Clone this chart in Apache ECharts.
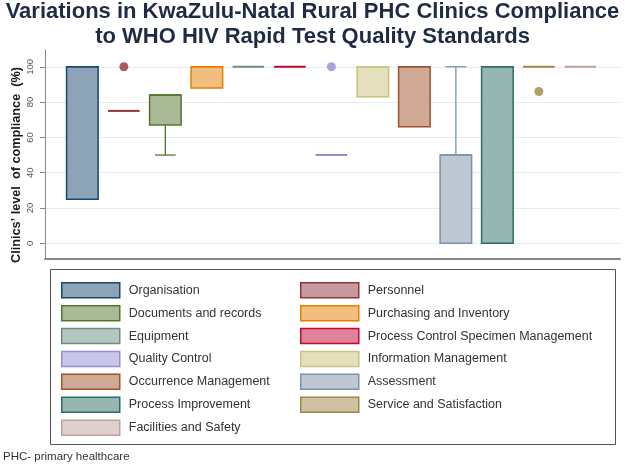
<!DOCTYPE html>
<html>
<head>
<meta charset="utf-8">
<script src="https://cdn.jsdelivr.net/npm/echarts@6/dist/echarts.min.js"></script>
<style>
html,body{margin:0;padding:0;background:#fff;}
#chart{width:625px;height:467px;}
</style>
</head>
<body>
<div id="chart"></div>
<script>
// ---- data ----
const categories = ['Organisation','Personnel','Documents and records','Purchasing and Inventory','Equipment','Process Control Specimen Management','Quality Control','Information Management','Occurrence Management','Assessment','Process Improvement','Service and Satisfaction','Facilities and Safety'];
const lowerWhisker = [25, 75, 50, 88, 100, 100, 50, 83, 66, 0, 0, 100, 100];
const q1Values     = [25, 75, 67, 88, 100, 100, 50, 83, 66, 0, 0, 100, 100];
const medianValues = [100, 75, 84, 100, 100, 100, 50, 100, 100, 50, 100, 100, 100];
const q3Values     = [100, 75, 84, 100, 100, 100, 50, 100, 100, 50, 100, 100, 100];
const upperWhisker = [100, 75, 84, 100, 100, 100, 50, 100, 100, 100, 100, 100, 100];
const outlierGroup = [1, 6, 11];
const outlierValue = [100, 100, 86];
const yTicks = [0, 20, 40, 60, 80, 100];
const leftLegend = [0, 2, 4, 6, 8, 10, 12];
const rightLegend = [1, 3, 5, 7, 9, 11];
const titleLines = ['Variations in KwaZulu-Natal Rural PHC Clinics Compliance', 'to WHO HIV Rapid Test Quality Standards'];
const yAxisTitle = 'Clinics’ level  of compliance  (%)';
const footnote = 'PHC- primary healthcare';

// ---- styles ----
const lineColors = ['#1a476f','#90353b','#55752f','#e37e00','#6e8e84','#c10534','#938dd2','#cac27e','#a0522d','#7b92a8','#2d6d66','#9c8847','#bfa19c'];
const fillColors = ['#8da3b7','#c79a9d','#aaba97','#f1be7f','#b6c6c1','#e0829a','#c9c6e8','#e4e0be','#cfa896','#bdc8d3','#96b6b2','#cdc3a3','#dfd0cd'];

function renderBox(params, api) {
  const x = api.value(0);
  const lo = api.value(1), q1 = api.value(2), med = api.value(3), q3 = api.value(4), hi = api.value(5);
  const c = params.seriesIndex;
  const half = api.size([0.38, 0])[0];
  const cap = api.size([0.25, 0])[0];
  const cx = api.coord([x, 0])[0];
  const y = v => api.coord([x, v])[1];
  const stroke = lineColors[c];
  const children = [];
  if (q3 > q1) {
    children.push({type:'rect', shape:{x: cx - half, y: y(q3), width: 2*half, height: y(q1) - y(q3)},
      style:{fill: fillColors[c], stroke: stroke, lineWidth: 1.5}});
    children.push({type:'line', shape:{x1: cx - half, y1: y(med), x2: cx + half, y2: y(med)},
      style:{stroke: stroke, lineWidth: 1.5}});
  } else {
    children.push({type:'line', shape:{x1: cx - half, y1: y(med), x2: cx + half, y2: y(med)},
      style:{stroke: stroke, lineWidth: 2}});
  }
  if (hi > q3) {
    children.push({type:'line', shape:{x1: cx, y1: y(q3), x2: cx, y2: y(hi)}, style:{stroke: stroke, lineWidth: 1.3}});
    children.push({type:'line', shape:{x1: cx - cap, y1: y(hi), x2: cx + cap, y2: y(hi)}, style:{stroke: stroke, lineWidth: 1.3}});
  }
  if (lo < q1) {
    children.push({type:'line', shape:{x1: cx, y1: y(q1), x2: cx, y2: y(lo)}, style:{stroke: stroke, lineWidth: 1.3}});
    children.push({type:'line', shape:{x1: cx - cap, y1: y(lo), x2: cx + cap, y2: y(lo)}, style:{stroke: stroke, lineWidth: 1.3}});
  }
  return {type:'group', children};
}

const series = categories.map((name, i) => ({
  name: name,
  type: 'custom',
  renderItem: renderBox,
  itemStyle: {color: fillColors[i], borderColor: lineColors[i]},
  encode: {x: 0, y: [1, 2, 3, 4, 5]},
  data: [[i + 1, lowerWhisker[i], q1Values[i], medianValues[i], q3Values[i], upperWhisker[i]]],
  silent: true,
  z: 3
}));
series.push({
  name: 'outliers',
  type: 'scatter',
  symbolSize: 9,
  silent: true,
  z: 4,
  data: outlierGroup.map((g, k) => ({value: [g + 1, outlierValue[k]], itemStyle: {color: lineColors[g]}}))
});

function legendData(list) {
  return list.map(i => ({name: categories[i], itemStyle: {color: fillColors[i], borderColor: lineColors[i], borderWidth: 1.5}}));
}
const legendCommon = {
  orient: 'vertical', icon: 'rect', itemWidth: 58, itemHeight: 15, itemGap: 6.4,
  selectedMode: false, padding: 0,
  textStyle: {fontFamily: 'Liberation Sans, Arial, sans-serif', fontSize: 12.5, lineHeight: 15, color: '#333', padding: [0, 0, 0, 4]}
};

const FONT = '"Liberation Sans", Arial, sans-serif';
const chart = echarts.init(document.getElementById('chart'), null, {renderer: 'canvas'});
chart.setOption({
  animation: false,
  backgroundColor: '#fff',
  grid: {left: 45, right: 5, top: 50, bottom: 208, containLabel: false},
  xAxis: {
    type: 'value', min: 0.1, max: 13.955,
    axisLine: {show: true, onZero: false, lineStyle: {color: '#8a8a8a', width: 2}},
    axisTick: {show: false}, axisLabel: {show: false}, splitLine: {show: false}
  },
  yAxis: {
    type: 'value', min: -8.9, max: 109.5,
    axisLine: {show: true, lineStyle: {color: '#8a8a8a', width: 1}},
    axisTick: {show: true, length: 5, customValues: yTicks, lineStyle: {color: '#8a8a8a'}},
    axisLabel: {customValues: yTicks, rotate: 90, margin: 10, fontSize: 9.5, color: '#555', fontFamily: 'Liberation Sans, Arial, sans-serif'},
    splitLine: {show: true, lineStyle: {color: '#e6eced', width: 1}}
  },
  legend: [
    Object.assign({left: 61, top: 282, data: legendData(leftLegend)}, legendCommon),
    Object.assign({left: 300, top: 282, data: legendData(rightLegend)}, legendCommon)
  ],
  graphic: [
    {type: 'text', x: 312.5, y: 1, style: {text: titleLines[0], font: 'bold 22px ' + FONT, fill: '#1f2b45', align: 'center', verticalAlign: 'top'}},
    {type: 'text', x: 312.5, y: 26, style: {text: titleLines[1], font: 'bold 22px ' + FONT, fill: '#1f2b45', align: 'center', verticalAlign: 'top'}},
    {type: 'text', x: 16, y: 165, rotation: Math.PI / 2, style: {text: yAxisTitle, font: 'bold 12.7px ' + FONT, fill: '#1a1a1a', align: 'center', verticalAlign: 'middle'}},
    {type: 'rect', shape: {x: 50.5, y: 269.5, width: 565, height: 175}, style: {fill: 'none', stroke: '#555', lineWidth: 1}, z: 1},
    {type: 'text', left: 3, top: 451, style: {text: footnote, font: '11.5px ' + FONT, fill: '#333'}}
  ],
  series: series
});
</script>
</body>
</html>
